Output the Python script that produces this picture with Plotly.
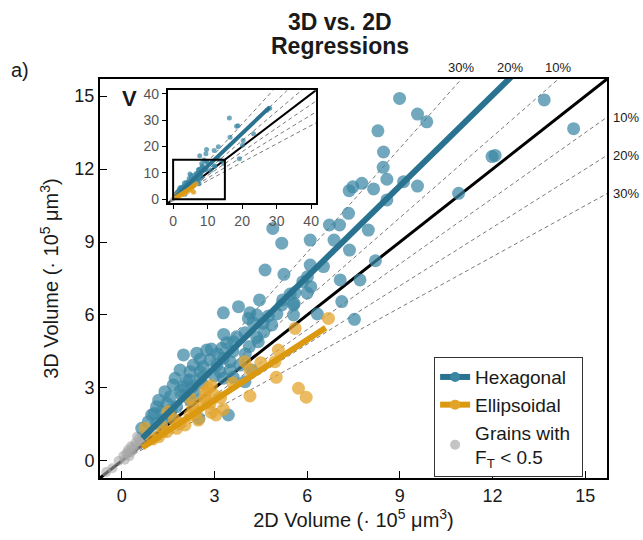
import numpy as np
import plotly.graph_objects as go

# ---- data (volumes in 1e5 um^3) ----
hex_2d = [8.99, 9.57, 9.87, 8.29, 8.47, 8.46, 8.58, 7.36, 7.48, 7.77, 8.15, 9.12, 9.57, 8.58,
          7.34, 6.72, 7.05, 4.89, 5.18, 6.10, 6.87, 7.98, 7.37, 8.21, 6.10, 6.53, 4.64, 5.25,
          5.86, 6.01, 6.12, 7.07, 7.71, 5.45, 5.61, 6.00, 4.46, 7.12, 3.78, 13.67, 14.62, 11.98,
          12.08, 10.90, 5.21, 5.56, 3.29, 4.15, 4.37, 4.75, 5.02, 4.58, 4.86, 4.10, 4.26, 5.56,
          5.18, 5.58, 6.33, 3.99, 3.72, 3.40, 3.61, 4.37, 4.42, 4.13, 3.24, 2.75, 2.43, 2.00,
          2.54, 2.86, 3.29, 3.51, 3.08, 2.64, 2.32, 2.21, 2.54, 1.89, 3.18, 3.51, 3.61, 3.99,
          3.29, 2.54, 2.19, 1.73, 1.67, 2.00, 2.27, 1.40, 1.57, 1.94, 2.21, 1.46, 1.13, 1.78,
          1.30, 0.97, 1.57, 0.86, 0.65, 1.13, 1.35, 2.50, 3.45, 3.83, 4.21, 7.53,
          2.90, 3.10, 3.60, 2.10, 2.60, 3.00, 1.90, 1.20, 1.60, 4.60, 4.00, 3.30, 2.35, 1.05,
          16.3, 18.4, 18.8, 16.5, 20.3, 23.3, 20.1, 19.2, 9.7, 13.1, 11.9, 9.5, 7.7, 28.0, 27.2]
hex_3d = [14.90, 14.26, 13.94, 13.57, 12.70, 12.07, 11.58, 11.11, 11.27, 11.41, 11.18, 11.48,
          11.30, 10.73, 10.18, 9.70, 9.70, 9.56, 8.95, 9.08, 9.08, 9.49, 8.67, 8.23, 8.05, 7.99,
          7.85, 7.67, 7.37, 7.57, 7.16, 7.44, 7.44, 6.86, 6.92, 6.90, 6.62, 6.55, 6.34, 14.84,
          13.66, 12.51, 12.56, 11.00, 6.62, 6.41, 6.09, 6.09, 6.00, 5.96, 6.04, 5.66, 5.59, 5.86,
          5.66, 6.00, 6.41, 6.48, 6.04, 5.27, 5.11, 4.86, 4.90, 5.08, 4.90, 4.70, 4.63, 4.56,
          4.43, 4.36, 4.18, 4.15, 4.22, 4.08, 3.94, 3.87, 3.94, 3.67, 3.67, 3.74, 3.67, 3.74,
          3.44, 3.26, 3.40, 3.40, 3.33, 3.40, 3.12, 3.05, 3.03, 2.85, 2.64, 2.71, 2.51, 2.37,
          2.23, 2.23, 2.03, 1.89, 1.89, 1.61, 1.34, 1.55, 1.68, 1.75, 1.89, 3.94, 3.74, 5.82,
          4.60, 4.40, 4.50, 3.30, 3.20, 3.50, 2.90, 2.50, 2.10, 5.30, 4.40, 5.20, 2.80, 1.95,
          30.8, 27.7, 27.9, 23.5, 22.3, 24.8, 20.5, 15.3, 18.9, 19.9, 18.5, 17.2, 16.5, 34.5, 33.8]

ell_2d = [6.69, 5.61, 5.07, 3.99, 4.50, 4.96, 4.15, 5.00, 2.80, 2.70, 4.15, 5.72, 5.97, 2.21,
          2.70, 2.86, 3.29, 3.05, 2.48, 2.21, 1.89, 1.51, 0.76, 1.30, 2.05, 1.78, 1.46, 2.90,
          3.00, 1.00, 1.20, 2.40, 2.30, 2.60, 3.20, 1.70, 2.90, 3.60]
ell_3d = [5.86, 5.45, 4.56, 4.08, 4.04, 4.08, 3.74, 3.44, 2.99, 2.85, 2.67, 2.99, 2.62, 2.58,
          2.58, 2.37, 2.12, 1.89, 1.68, 1.89, 1.55, 2.03, 1.34, 1.41, 1.48, 1.34, 1.20, 3.10,
          2.70, 0.90, 1.00, 2.00, 2.20, 2.40, 2.60, 1.70, 2.00, 3.20]

low_ft_2d = [0.05, 0.15, 0.20, 0.30, 0.30, 0.40, 0.45, 0.50, 0.55, 0.60, 0.65, 0.70, 0.10,
             -0.10, -0.30, -0.50, 0.25, 0.35, 0.50, 0.20]
low_ft_3d = [0.20, 0.30, 0.45, 0.35, 0.60, 0.50, 0.75, 0.65, 0.90, 0.80, 1.05, 0.95, 0.05,
             0.00, -0.30, -0.45, 0.20, 0.55, 1.00, 0.35]

# regression fits: slope, intercept, x extent
hex_fit = {"slope": 1.245, "intercept": 0.10, "x": [0.67, 28.0]}
ell_fit = {"slope": 0.83, "intercept": 0.0, "x": [0.67, 6.6]}

deviations = [0.10, 0.20, 0.30]
dev_labels = ["10%", "20%", "30%"]

main_ticks = [0, 3, 6, 9, 12, 15]
inset_ticks = [0, 10, 20, 30, 40]
main_range = [-0.7, 15.7]
inset_range = [-1.5, 41.4]
zoom_box = [0, 15]

# ---- styles ----
HEX_LINE = "#2a7390"
HEX_PT = "#3a86a3"
ELL_LINE = "#db9910"
ELL_PT = "#e3a42c"
GREY_PT = "#a8a8a8"
FONT = "Liberation Sans, Arial, Helvetica, sans-serif"

fig = go.Figure()


def add_panel(xa, ya, rng, lw_ref, lw_fit, msize, gsize):
    hi = rng[1]
    # +/- deviation guides
    for p in deviations:
        fig.add_trace(go.Scatter(x=[0, hi], y=[0, hi * (1 - p)], mode="lines",
                                 line=dict(color="#7a7a7a", width=1, dash="4px,3px"),
                                 xaxis=xa, yaxis=ya, showlegend=False, hoverinfo="skip"))
        fig.add_trace(go.Scatter(x=[0, hi * (1 - p)], y=[0, hi], mode="lines",
                                 line=dict(color="#7a7a7a", width=1, dash="4px,3px"),
                                 xaxis=xa, yaxis=ya, showlegend=False, hoverinfo="skip"))
    # 1:1 reference
    fig.add_trace(go.Scatter(x=rng, y=rng, mode="lines",
                             line=dict(color="black", width=lw_ref),
                             xaxis=xa, yaxis=ya, showlegend=False, hoverinfo="skip"))
    fig.add_trace(go.Scatter(x=low_ft_2d, y=low_ft_3d, mode="markers",
                             marker=dict(color=GREY_PT, size=gsize, opacity=0.6, line=dict(width=0)),
                             xaxis=xa, yaxis=ya, showlegend=False))
    fig.add_trace(go.Scatter(x=hex_2d, y=hex_3d, mode="markers",
                             marker=dict(color=HEX_PT, size=msize, opacity=0.72, line=dict(width=0)),
                             xaxis=xa, yaxis=ya, showlegend=False))
    fig.add_trace(go.Scatter(x=ell_2d, y=ell_3d, mode="markers",
                             marker=dict(color=ELL_PT, size=msize, opacity=0.75, line=dict(width=0)),
                             xaxis=xa, yaxis=ya, showlegend=False))
    for fit, col in ((hex_fit, HEX_LINE), (ell_fit, ELL_LINE)):
        fx = np.array(fit["x"])
        fig.add_trace(go.Scatter(x=fx, y=fit["slope"] * fx + fit["intercept"], mode="lines",
                                 line=dict(color=col, width=lw_fit),
                                 xaxis=xa, yaxis=ya, showlegend=False, hoverinfo="skip"))


add_panel("x", "y", main_range, 3, 6, 13, 10)
add_panel("x2", "y2", inset_range, 2, 4, 5, 4)

# legend entries
fig.add_trace(go.Scatter(x=[None], y=[None], mode="lines+markers", name="Hexagonal  ",
                         line=dict(color=HEX_LINE, width=6), marker=dict(color=HEX_PT, size=10)))
fig.add_trace(go.Scatter(x=[None], y=[None], mode="lines+markers", name="Ellipsoidal",
                         line=dict(color=ELL_LINE, width=6), marker=dict(color=ELL_PT, size=10)))
fig.add_trace(go.Scatter(x=[None], y=[None], mode="markers",
                         name="Grains with<br>F<sub>T</sub> < 0.5",
                         marker=dict(color="#c4c4c4", size=10)))

axis_common = dict(showline=True, mirror=True, linecolor="black", linewidth=2,
                   showgrid=False, zeroline=False)

fig.update_layout(
    width=643, height=540,
    margin=dict(l=100, r=36, t=79, b=62),
    paper_bgcolor="white", plot_bgcolor="white",
    font=dict(family=FONT, color="#1a1a1a", size=17),
    xaxis=dict(domain=[0, 1], range=main_range, tickvals=main_ticks, ticks="inside",
               ticklen=7, tickcolor="black", tickfont=dict(size=18),
               title=dict(text="2D Volume (· 10<sup>5</sup> μm<sup>3</sup>)",
                          font=dict(size=20), standoff=8),
               **axis_common),
    yaxis=dict(domain=[0, 1], range=main_range, tickvals=main_ticks, ticks="inside",
               ticklen=7, tickcolor="black", tickfont=dict(size=18),
               title=dict(text="3D Volume (· 10<sup>5</sup> μm<sup>3</sup>)",
                          font=dict(size=20), standoff=10),
               **axis_common),
    xaxis2=dict(domain=[0.134, 0.426], anchor="y2", range=inset_range, tickvals=inset_ticks,
                ticks="outside", ticklen=4, tickcolor="black",
                tickfont=dict(size=14, color="#555555"), **axis_common),
    yaxis2=dict(domain=[0.689, 0.972], anchor="x2", range=inset_range, tickvals=inset_ticks,
                ticks="outside", ticklen=4, tickcolor="black",
                tickfont=dict(size=14, color="#555555"), **axis_common),
    legend=dict(x=0.659, y=0.303, xanchor="left", yanchor="top",
                bgcolor="white", bordercolor="#333333", borderwidth=1,
                font=dict(size=19), traceorder="normal", tracegroupgap=2),
    showlegend=True,
)

# zoom window drawn in the inset
fig.add_shape(type="rect", xref="x2", yref="y2", x0=zoom_box[0], y0=zoom_box[0],
              x1=zoom_box[1], y1=zoom_box[1], line=dict(color="black", width=2))

hi = main_range[1]
for p, lab in zip(deviations, dev_labels):
    fig.add_annotation(x=hi * (1 - p), y=1, xref="x", yref="paper", text=lab, showarrow=False,
                       xanchor="center", yanchor="bottom", yshift=2, font=dict(size=13))
    fig.add_annotation(x=1, y=hi * (1 - p), xref="paper", yref="y", text=lab, showarrow=False,
                       xanchor="left", yanchor="middle", xshift=4, font=dict(size=13))

for line_text, ypos in (("3D vs. 2D", 1.143), ("Regressions", 1.083)):
    fig.add_annotation(x=0.473, y=ypos, xref="paper", yref="paper",
                       text=f"<b>{line_text}</b>", showarrow=False,
                       font=dict(size=23), xanchor="center", yanchor="middle")
fig.add_annotation(x=-0.158, y=1.023, xref="paper", yref="paper", text="a)",
                   showarrow=False, font=dict(size=20), xanchor="center", yanchor="middle")
fig.add_annotation(x=0.059, y=0.952, xref="paper", yref="paper", text="<b>V</b>",
                   showarrow=False, font=dict(size=22), xanchor="center", yanchor="middle")

fig.write_html("out.html")
